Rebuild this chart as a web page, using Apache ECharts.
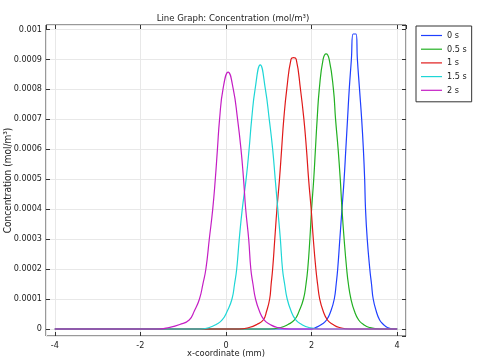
<!DOCTYPE html>
<html>
<head>
<meta charset="utf-8">
<script src="https://cdn.jsdelivr.net/npm/echarts@6/dist/echarts.min.js"></script>
<style>
html,body{margin:0;padding:0;background:#fff;}
#chart{width:483px;height:363px;}
</style>
</head>
<body>
<div id="chart"></div>
<script>
// ---- Data ----
const seriesNames = ['0 s', '0.5 s', '1 s', '1.5 s', '2 s'];
const xTickLabels = ['-4', '-2', '0', '2', '4'];

const x0 = [-4, 2.0, 2.10, 2.23, 2.35, 2.45, 2.53, 2.575, 2.61, 2.66, 2.71, 2.76, 2.80, 2.84, 2.88, 2.93, 2.97, 3.04, 3.07, 3.12, 3.17, 3.21, 3.24, 3.26, 3.30, 3.36, 3.40, 3.44, 3.51, 3.59, 3.68, 3.77, 3.9, 4];
const y0 = [0, 0, 0.000005, 0.000015, 0.00003, 0.00006, 0.0001, 0.00015, 0.0002, 0.0003, 0.0004, 0.0005, 0.0006, 0.0007, 0.0008, 0.0009, 0.000984, 0.000984, 0.0009, 0.0008, 0.0007, 0.0006, 0.0005, 0.0004, 0.0003, 0.0002, 0.00015, 0.0001, 0.00006, 0.00003, 0.000015, 0.000005, 0, 0];

const x05 = [-4, 1.0, 1.28, 1.45, 1.60, 1.71, 1.81, 1.87, 1.91, 1.96, 2.00, 2.05, 2.09, 2.13, 2.18, 2.27, 2.34, 2.41, 2.51, 2.56, 2.62, 2.67, 2.71, 2.76, 2.82, 2.86, 2.92, 3.00, 3.10, 3.21, 3.35, 3.6, 4];
const y05 = [0, 0, 0.000005, 0.000015, 0.00003, 0.00006, 0.0001, 0.00015, 0.0002, 0.0003, 0.0004, 0.0005, 0.0006, 0.0007, 0.0008, 0.0009, 0.000918, 0.0009, 0.0008, 0.0007, 0.0006, 0.0005, 0.0004, 0.0003, 0.0002, 0.00015, 0.0001, 0.00006, 0.00003, 0.000015, 0.000005, 0, 0];

const x1 = [-4, 0.3, 0.54, 0.72, 0.87, 0.95, 1.02, 1.055, 1.09, 1.14, 1.19, 1.25, 1.30, 1.35, 1.42, 1.52, 1.58, 1.64, 1.74, 1.82, 1.88, 1.93, 1.99, 2.04, 2.10, 2.14, 2.19, 2.27, 2.37, 2.50, 2.65, 2.9, 4];
const y1 = [0, 0, 0.000005, 0.000015, 0.00003, 0.00006, 0.0001, 0.00015, 0.0002, 0.0003, 0.0004, 0.0005, 0.0006, 0.0007, 0.0008, 0.0009, 0.000905, 0.0009, 0.0008, 0.0007, 0.0006, 0.0005, 0.0004, 0.0003, 0.0002, 0.00015, 0.0001, 0.00006, 0.00003, 0.000015, 0.000005, 0, 0];

const x15 = [-4, -0.6, -0.39, -0.23, -0.09, 0.03, 0.14, 0.20, 0.25, 0.31, 0.38, 0.47, 0.54, 0.60, 0.68, 0.80, 0.92, 1.01, 1.09, 1.15, 1.21, 1.27, 1.32, 1.37, 1.43, 1.52, 1.63, 1.77, 1.94, 2.2, 4];
const y15 = [0, 0, 0.000005, 0.000015, 0.00003, 0.00006, 0.0001, 0.00015, 0.0002, 0.0003, 0.0004, 0.0005, 0.0006, 0.0007, 0.0008, 0.000881, 0.0008, 0.0007, 0.0006, 0.0005, 0.0004, 0.0003, 0.0002, 0.00015, 0.0001, 0.00006, 0.00003, 0.000015, 0.000005, 0, 0];

const x2 = [-4, -1.6, -1.33, -1.08, -0.86, -0.74, -0.62, -0.54, -0.47, -0.39, -0.31, -0.25, -0.20, -0.15, -0.07, 0.05, 0.17, 0.27, 0.35, 0.41, 0.46, 0.53, 0.58, 0.63, 0.69, 0.78, 0.89, 1.03, 1.2, 1.5, 4];
const y2 = [0, 0, 0.000005, 0.000015, 0.00003, 0.00006, 0.0001, 0.00015, 0.0002, 0.0003, 0.0004, 0.0005, 0.0006, 0.0007, 0.0008, 0.000857, 0.0008, 0.0007, 0.0006, 0.0005, 0.0004, 0.0003, 0.0002, 0.00015, 0.0001, 0.00006, 0.00003, 0.000015, 0.000005, 0, 0];

const colors = ['#1f3fff', '#22b022', '#e01a1a', '#1ed6d6', '#c41ec4'];
const FONT = '"DejaVu Sans Condensed", "DejaVu Sans", sans-serif';

const xsAll = [x0, x05, x1, x15, x2];
const ysAll = [y0, y05, y1, y15, y2];

const chart = echarts.init(document.getElementById('chart'), null, {renderer: 'canvas'});

const series = seriesNames.map((name, i) => ({
  name: name,
  type: 'line',
  data: xsAll[i].map((x, k) => [x, ysAll[i][k]]),
  symbol: 'none',
  showSymbol: false,
  smooth: 0.5,
  lineStyle: {color: colors[i], width: 1.2},
  itemStyle: {color: colors[i]},
  xAxisIndex: 0,
  yAxisIndex: 0,
  animation: false
}));

const XMIN = -4.206, XMAX = 4.206, YMIN = -0.0000234, YMAX = 0.001014;
const axisCol = '#333';

chart.setOption({
  animation: false,
  textStyle: {fontFamily: FONT},
  title: {
    text: 'Line Graph: Concentration (mol/m³)',
    left: 228, top: 9, textAlign: 'center',
    textStyle: {fontFamily: FONT, fontSize: 9.5, fontWeight: 'normal', color: '#222'}
  },
  legend: {
    orient: 'vertical',
    left: 416, top: 26,
    padding: [5, 5, 7, 5],
    itemGap: 4.7,
    itemWidth: 21, itemHeight: 9,
    borderColor: '#333', borderWidth: 1,
    textStyle: {fontFamily: FONT, fontSize: 9, color: '#222'},
    data: seriesNames.map((n, i) => ({name: n, icon: 'path://M0,4.4 L21,4.4 L21,5.6 L0,5.6 Z', itemStyle: {color: colors[i]}}))
  },
  grid: {
    left: 46, right: 77, top: 25, bottom: 27,
    containLabel: false, outerBoundsMode: 'none',
    show: true, borderColor: axisCol, borderWidth: 1, backgroundColor: 'transparent'
  },
  xAxis: [{
    type: 'value', min: XMIN, max: XMAX, splitNumber: 4,
    name: 'x-coordinate (mm)', nameLocation: 'middle', nameGap: 13, nameMoveOverlap: false,
    nameTextStyle: {fontFamily: FONT, fontSize: 9.3, color: '#222', verticalAlign: 'top'},
    axisLine: {show: false, onZero: false},
    axisTick: {show: true, inside: true, length: 4, lineStyle: {color: axisCol}},
    axisLabel: {showMinLabel: false, showMaxLabel: false, fontFamily: FONT, fontSize: 9, color: '#222', margin: 5,
      formatter: v => { const s = String(Math.round(v)); return xTickLabels.indexOf(s) >= 0 ? s : ''; }},
    splitLine: {show: true, lineStyle: {color: '#e8e8e8', width: 1}}
  }, {
    type: 'value', position: 'top', min: XMIN, max: XMAX, splitNumber: 4,
    axisLine: {show: false, onZero: false},
    axisTick: {show: true, inside: true, length: 4, lineStyle: {color: axisCol}},
    axisLabel: {show: false},
    splitLine: {show: false}
  }],
  yAxis: [{
    type: 'value', min: YMIN, max: YMAX, splitNumber: 10,
    name: 'Concentration (mol/m³)', nameLocation: 'middle', nameGap: 38, nameRotate: 90, nameMoveOverlap: false,
    nameTextStyle: {fontFamily: FONT, fontSize: 10, color: '#222', verticalAlign: 'middle'},
    axisLine: {show: false, onZero: false},
    axisTick: {show: true, inside: true, length: 4, lineStyle: {color: axisCol}},
    axisLabel: {showMinLabel: false, showMaxLabel: false, fontFamily: FONT, fontSize: 9, color: '#222', margin: 4,
      formatter: v => String(+v.toFixed(4))},
    splitLine: {show: true, lineStyle: {color: '#e8e8e8', width: 1}}
  }, {
    type: 'value', position: 'right', min: YMIN, max: YMAX, splitNumber: 10,
    axisLine: {show: false, onZero: false},
    axisTick: {show: true, inside: true, length: 4, lineStyle: {color: axisCol}},
    axisLabel: {show: false},
    splitLine: {show: false}
  }],
  series: series
});
</script>
</body>
</html>
